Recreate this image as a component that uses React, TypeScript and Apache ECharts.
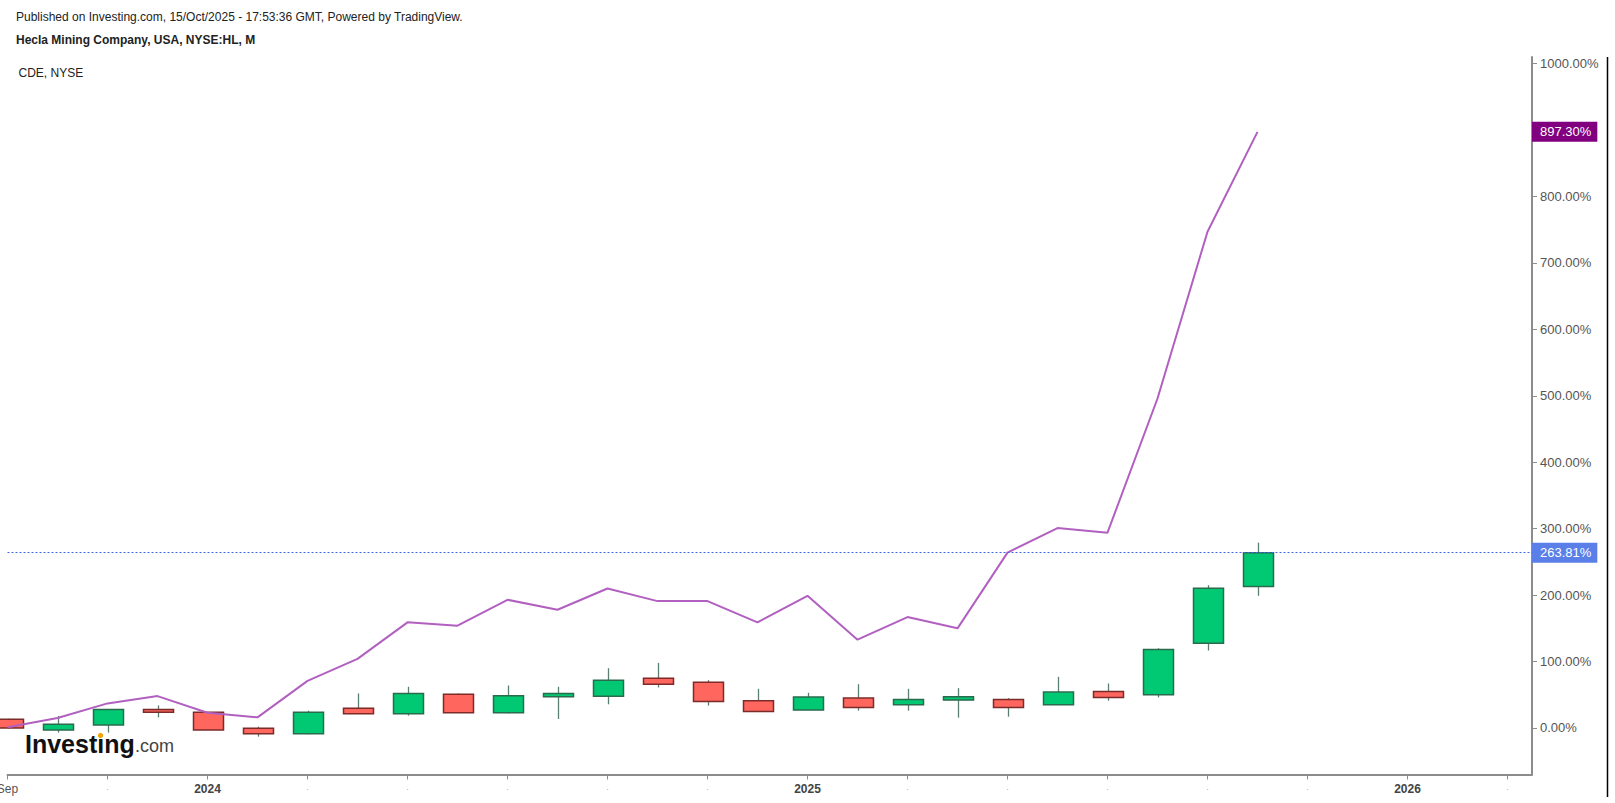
import { useEffect, useRef } from 'react';
import * as echarts from 'echarts';

// monthly bars, Sep 2023 .. Oct 2025 (x = month index from Sep 2023)
const MONTHS = [
  'Sep 2023', 'Oct 2023', 'Nov 2023', 'Dec 2023',
  'Jan 2024', 'Feb 2024', 'Mar 2024', 'Apr 2024', 'May 2024', 'Jun 2024',
  'Jul 2024', 'Aug 2024', 'Sep 2024', 'Oct 2024', 'Nov 2024', 'Dec 2024',
  'Jan 2025', 'Feb 2025', 'Mar 2025', 'Apr 2025', 'May 2025', 'Jun 2025',
  'Jul 2025', 'Aug 2025', 'Sep 2025', 'Oct 2025',
];

// HL, % change
const HL_OPEN = [13, -3, 4.5, 28, 23.6, -0.5, -8.5, 29.6, 21.6, 50.8, 23, 47, 47.7, 75, 69, 41, 27, 45, 35, 42, 43, 35, 55, 50, 127.6, 213];
const HL_CLOSE = [0, 5.5, 28, 23.6, -3, -8.5, 23.6, 21.6, 52, 23, 48.7, 52, 72, 66, 40, 25, 46.7, 31, 43, 47, 31, 54, 46, 118, 210.5, 263.81];
const HL_LOW = [-1, -7, -7, 16, -3, -13, -9.5, 21, 18.6, 23, 22, 13.6, 35.7, 61, 33.7, 24, 27, 26, 26, 15.6, 17, 35, 41, 46, 116.6, 199];
const HL_HIGH = [14, 18, 28.5, 34, 24, 2, 26, 52, 62, 52, 64, 62, 90, 98, 72, 59, 53, 66, 59, 60, 45, 77, 67, 120, 215, 279];

// CDE, % change
const CDE_PCT = [1, 15, 37, 48, 23, 16, 71, 104, 159, 154, 193, 178, 210, 191, 191, 159, 199, 133, 167, 150, 264, 301, 294, 496, 747, 897.3];

const Y_TICKS = [0, 100, 200, 300, 400, 500, 600, 700, 800, 900, 1000];
const Y_LABEL_TICKS = [0, 100, 200, 300, 400, 500, 600, 700, 800, 1000];
const X_TICKS = [0, 2, 4, 6, 8, 10, 12, 14, 16, 18, 20, 22, 24, 26, 28, 30];
const X_TICK_LABELS: Record<number, string> = { 0: 'Sep', 4: '2024', 16: '2025', 28: '2026' };

const HL_LAST = 263.81;
const CDE_LAST = 897.3;

const UP_FILL = '#00c873';
const UP_BORDER = '#2a6b4d';
const DOWN_FILL = '#ff665e';
const DOWN_BORDER = '#7c2b2b';
const WICK = '#5a8070';
const CANDLE_W = 30;
const FONT = '"Liberation Sans", Arial, sans-serif';

export default function App() {
  const chartRef = useRef<HTMLDivElement>(null);

  useEffect(() => {
    if (!chartRef.current) return;
    const chart = echarts.init(chartRef.current, null, { renderer: 'svg' });

    const candles = MONTHS.map((_, i) => [i, HL_OPEN[i], HL_CLOSE[i], HL_LOW[i], HL_HIGH[i]]);
    const line = MONTHS.map((_, i) => [i, CDE_PCT[i]]);

    const option: any = {
      animation: false,
      textStyle: { fontFamily: FONT },
      grid: { left: 7.5, right: 83, top: 57, bottom: 28.5, outerBoundsMode: 'none' },
      xAxis: {
        type: 'value',
        min: 0,
        max: 30.49,
        splitLine: { show: false },
        axisLine: { show: true, onZero: false, lineStyle: { color: '#8c8c8c', width: 2 } },
        axisTick: { show: true, customValues: X_TICKS, length: 5, lineStyle: { color: '#8c8c8c' } },
        axisLabel: {
          customValues: X_TICKS,
          margin: 8,
          formatter: (v: number) => {
            const t = X_TICK_LABELS[v];
            if (!t) return '{d|.}';
            return v === 0 ? `{m|${t}}` : `{y|${t}}`;
          },
          rich: {
            y: { fontFamily: FONT, fontSize: 12, fontWeight: 'bold', color: '#444' },
            m: { fontFamily: FONT, fontSize: 12, color: '#555' },
            d: { fontFamily: FONT, fontSize: 9, color: '#aaa' },
          },
        },
      },
      yAxis: {
        type: 'value',
        position: 'right',
        min: -70,
        max: 1010,
        splitLine: { show: false },
        axisLine: { show: true, onZero: false, lineStyle: { color: '#8c8c8c', width: 2 } },
        axisTick: { show: true, customValues: Y_TICKS, length: 5, lineStyle: { color: '#8c8c8c' } },
        axisLabel: {
          customValues: Y_LABEL_TICKS,
          margin: 8,
          fontSize: 13,
          color: '#555',
          fontFamily: FONT,
          formatter: (v: number) => `${v.toFixed(2)}%`,
        },
      },
      series: [
        {
          name: 'HL',
          type: 'custom',
          clip: false,
          encode: { x: 0, y: [1, 2, 3, 4] },
          data: candles,
          z: 2,
          renderItem: (_params: any, api: any) => {
            const x = api.value(0);
            const o = api.value(1);
            const c = api.value(2);
            const pO = api.coord([x, o]);
            const pC = api.coord([x, c]);
            const pL = api.coord([x, api.value(3)]);
            const pH = api.coord([x, api.value(4)]);
            const up = c >= o;
            const top = Math.min(pO[1], pC[1]);
            const bottom = Math.max(pO[1], pC[1]);
            const cx = Math.round(pO[0]) + 0.5;
            return {
              type: 'group',
              children: [
                {
                  type: 'line',
                  shape: { x1: cx, y1: pL[1], x2: cx, y2: pH[1] },
                  style: { stroke: WICK, lineWidth: 1.3 },
                },
                {
                  type: 'rect',
                  shape: { x: cx - CANDLE_W / 2, y: top, width: CANDLE_W, height: Math.max(bottom - top, 2) },
                  style: {
                    fill: up ? UP_FILL : DOWN_FILL,
                    stroke: up ? UP_BORDER : DOWN_BORDER,
                    lineWidth: 1.5,
                  },
                },
              ],
            };
          },
        },
        {
          name: 'CDE',
          type: 'line',
          data: line,
          symbol: 'none',
          z: 3,
          lineStyle: { color: '#b160c0', width: 2 },
          markLine: {
            silent: true,
            symbol: ['none', 'none'],
            animation: false,
            data: [
              {
                yAxis: CDE_LAST,
                lineStyle: { color: 'rgba(0,0,0,0)', width: 0 },
                label: {
                  position: 'end',
                  distance: 0,
                  formatter: `${CDE_LAST.toFixed(2)}%`,
                  color: '#fff',
                  backgroundColor: '#800080',
                  padding: [3, 6, 2, 8],
                  fontSize: 13,
                  lineHeight: 15,
                  fontFamily: FONT,
                },
              },
              {
                yAxis: HL_LAST,
                lineStyle: { color: '#3f6ae6', type: [2, 2], width: 1 },
                label: {
                  position: 'end',
                  distance: 0,
                  formatter: `${HL_LAST.toFixed(2)}%`,
                  color: '#fff',
                  backgroundColor: '#5a7fe8',
                  padding: [3, 6, 2, 8],
                  fontSize: 13,
                  lineHeight: 15,
                  fontFamily: FONT,
                },
              },
            ],
          },
        },
      ],
      graphic: [
        {
          type: 'text',
          x: 16,
          y: 16.5,
          style: {
            text: 'Published on Investing.com, 15/Oct/2025 - 17:53:36 GMT, Powered by TradingView.',
            fill: '#222',
            font: `12px ${FONT}`,
            verticalAlign: 'middle',
          },
        },
        {
          type: 'text',
          x: 16,
          y: 40,
          style: {
            text: 'Hecla Mining Company, USA, NYSE:HL, M',
            fill: '#222',
            font: `bold 12px ${FONT}`,
            verticalAlign: 'middle',
          },
        },
        {
          type: 'text',
          x: 18.5,
          y: 73,
          style: { text: 'CDE, NYSE', fill: '#222', font: `12px ${FONT}`, verticalAlign: 'middle' },
        },
        {
          type: 'text',
          x: 25,
          y: 744,
          z: 10,
          style: { text: 'Investing', fill: '#111', font: `bold 25px ${FONT}`, verticalAlign: 'middle' },
        },
        {
          type: 'text',
          x: 135,
          y: 746,
          z: 10,
          style: { text: '.com', fill: '#444', font: `18px ${FONT}`, verticalAlign: 'middle' },
        },
        {
          type: 'circle',
          z: 11,
          shape: { cx: 100.5, cy: 735.5, r: 2.6 },
          style: { fill: '#f5a300' },
        },
        {
          type: 'line',
          shape: { x1: 1607.5, y1: 57, x2: 1607.5, y2: 797 },
          style: { stroke: '#000', lineWidth: 1.5 },
        },
      ],
    };

    chart.setOption(option);

    return () => {
      chart.dispose();
    };
  }, []);

  return (
    <div
      ref={chartRef}
      style={{ position: 'fixed', left: 0, top: 0, width: 1615, height: 803, background: '#fff' }}
    />
  );
}
